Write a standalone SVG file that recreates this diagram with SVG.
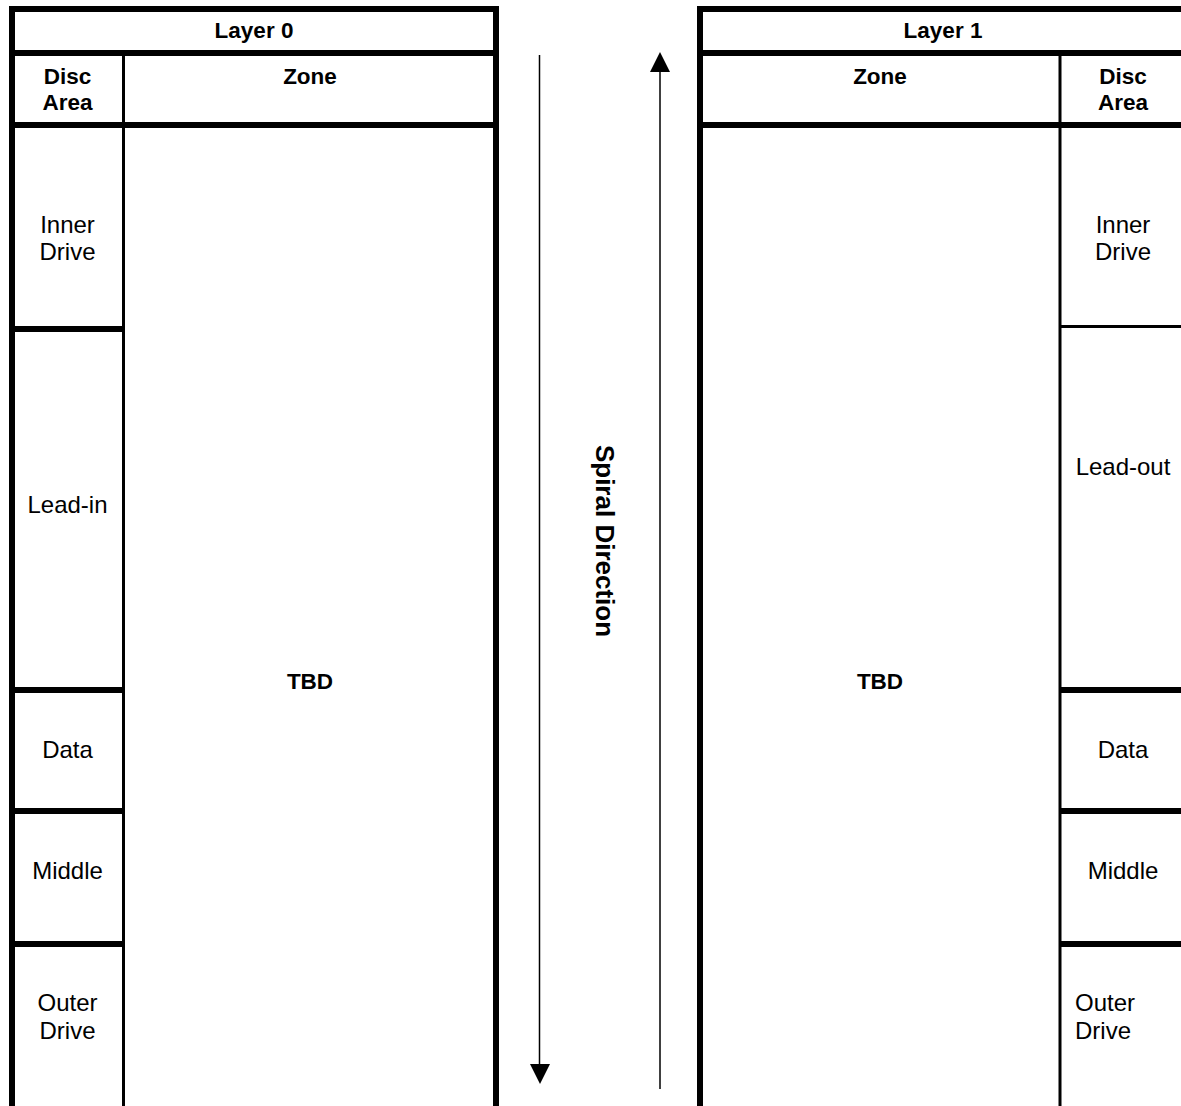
<svg xmlns="http://www.w3.org/2000/svg" width="1181" height="1106" viewBox="0 0 1181 1106">
<style>
.thick{stroke:#000;stroke-width:6;fill:none}
.thin{stroke:#000;stroke-width:3;fill:none}
.arr{stroke:#000;stroke-width:1.5;fill:none}
.b{font-family:"Liberation Sans",Arial,sans-serif;font-weight:bold;font-size:22.5px;fill:#000;text-anchor:middle}
.r{font-family:"Liberation Sans",Arial,sans-serif;font-size:24px;fill:#000;text-anchor:middle}
</style>
<rect width="1181" height="1106" fill="#fff"/>
<g id="layer0">
<path class="thick" d="M12,1106 V9 H496 V1106 M12,53 H496 M12,125 H496 M12,329 H123 M12,690 H123 M12,811 H123 M12,944 H123"/>
<path class="thin" d="M123.5,53 V1106"/>
<text class="b" x="254" y="38">Layer 0</text>
<text class="b" x="310" y="84">Zone</text>
<text class="b" x="67.5" y="84">Disc</text>
<text class="b" x="67.5" y="110">Area</text>
<text class="r" x="67.5" y="233">Inner</text>
<text class="r" x="67.5" y="260">Drive</text>
<text class="r" x="67.5" y="513">Lead-in</text>
<text class="b" x="310" y="689">TBD</text>
<text class="r" x="67.5" y="758">Data</text>
<text class="r" x="67.5" y="879">Middle</text>
<text class="r" x="67.5" y="1011">Outer</text>
<text class="r" x="67.5" y="1039">Drive</text>
</g>
<g id="layer1">
<path class="thick" d="M700,1106 V9 H1190 M700,53 H1190 M700,125 H1190 M1060,690 H1190 M1060,811 H1190 M1060,944 H1190"/>
<path class="thin" d="M1060,53 V1106 M1060,326.5 H1190"/>
<text class="b" x="943" y="38">Layer 1</text>
<text class="b" x="880" y="84">Zone</text>
<text class="b" x="1123" y="84">Disc</text>
<text class="b" x="1123" y="110">Area</text>
<text class="r" x="1123" y="233">Inner</text>
<text class="r" x="1123" y="260">Drive</text>
<text class="r" x="1123" y="475">Lead-out</text>
<text class="b" x="880" y="689">TBD</text>
<text class="r" x="1123" y="758">Data</text>
<text class="r" x="1123" y="879">Middle</text>
<text class="r" x="1075" y="1011" style="text-anchor:start">Outer</text>
<text class="r" x="1075" y="1039" style="text-anchor:start">Drive</text>
</g>
<g id="connectors">
<path class="arr" d="M539.5,55 V1066"/>
<polygon points="530,1064 550,1064 540,1084" fill="#000"/>
<path class="arr" d="M660,1089 V70"/>
<polygon points="650,72 670,72 660,52" fill="#000"/>
</g>
<g id="label">
<text class="b" transform="translate(596,541) rotate(90)" style="font-size:26px">Spiral Direction</text>
</g>
</svg>
